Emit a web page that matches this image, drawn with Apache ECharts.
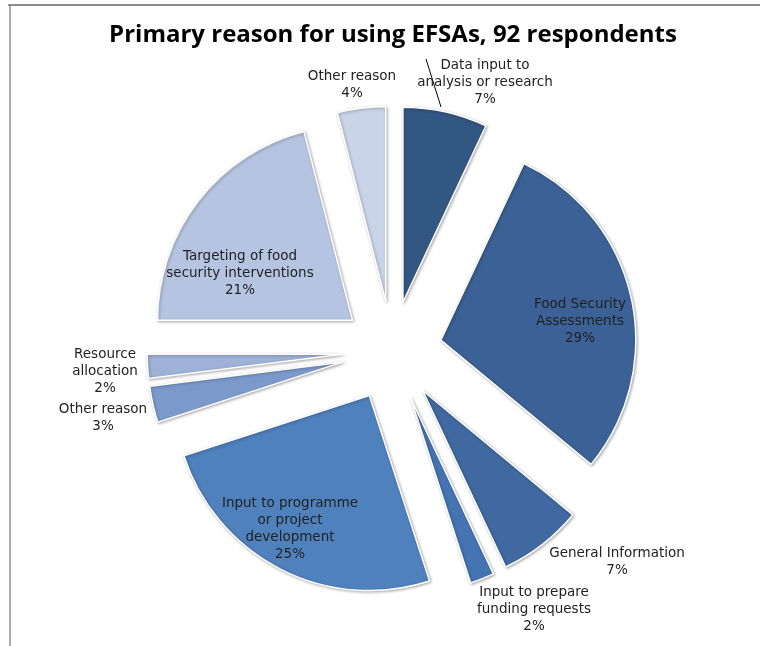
<!DOCTYPE html>
<html>
<head>
<meta charset="utf-8">
<script src="https://cdn.jsdelivr.net/npm/echarts@6/dist/echarts.min.js"></script>
<style>
  html, body { margin: 0; padding: 0; background: #ffffff; }
  #chart { width: 760px; height: 646px; }
</style>
</head>
<body>
<div id="chart"></div>
<script>
// Survey categories, clockwise from 12 o'clock
const categories = [
  'Data input to\nanalysis or research',
  'Food Security\nAssessments',
  'General Information',
  'Input to prepare\nfunding requests',
  'Input to programme\nor project\ndevelopment',
  'Other reason',
  'Resource\nallocation',
  'Targeting of food\nsecurity interventions',
  'Other reason'
];
// Share of respondents, percent
const shares = [7, 29, 7, 2, 25, 3, 2, 21, 4];

// Slice fills, dark navy to pale blue
const sliceColors = ['#335783', '#3b6196', '#3f69a0', '#4574b2', '#4f81bd', '#7b9acb', '#9db2d6', '#b5c4e0', '#c9d4e8'];
// Label block centres
const labelSpots = [
  [485, 82], [580, 321], [617, 562], [534, 609], [290, 529],
  [103, 418], [105, 371], [240, 273], [352, 85]
];

const chart = echarts.init(document.getElementById('chart'), null, { renderer: 'canvas' });

const data = shares.map((v, i) => ({
  name: categories[i],
  value: v,
  selected: true,
  itemStyle: { color: sliceColors[i] }
}));

// Category labels: name plus share, one text block per slice, drawn above the pie
const labelTexts = shares.map((v, i) => ({
  type: 'text',
  x: labelSpots[i][0],
  y: labelSpots[i][1],
  z: 100,
  silent: true,
  style: {
    text: categories[i] + '\n' + v + '%',
    fontFamily: 'DejaVu Sans',
    fontSize: 13.5,
    lineHeight: 17,
    fill: '#222222',
    align: 'center',
    verticalAlign: 'middle'
  }
}));

chart.setOption({
  animation: false,
  backgroundColor: '#ffffff',
  title: {
    text: 'Primary reason for using EFSAs, 92 respondents',
    left: 388,
    top: 18,
    textAlign: 'center',
    textStyle: {
      fontFamily: 'Open Sans',
      fontWeight: 'bold',
      fontSize: 24,
      color: '#000000'
    }
  },
  graphic: [
    { type: 'line', silent: true, z: 100, shape: { x1: 8, y1: 5, x2: 760, y2: 5 }, style: { stroke: '#8c8c8c', lineWidth: 2 } },
    { type: 'line', silent: true, z: 100, shape: { x1: 10, y1: 4, x2: 10, y2: 646 }, style: { stroke: '#8c8c8c', lineWidth: 1.5 } },
    // leader line for the top-right label
    { type: 'line', silent: true, z: 100, shape: { x1: 426, y1: 59, x2: 441, y2: 107 }, style: { stroke: '#000000', lineWidth: 1 } }
  ].concat(labelTexts),
  series: [{
    type: 'pie',
    z: 2,
    center: [392, 351],
    radius: 195,
    startAngle: 90,
    clockwise: true,
    selectedMode: 'multiple',
    selectedOffset: 50,
    itemStyle: {
      borderColor: '#ffffff',
      borderWidth: 1.5,
      shadowColor: 'rgba(0,0,0,0.3)',
      shadowBlur: 3,
      shadowOffsetX: 1,
      shadowOffsetY: 1
    },
    label: { show: false },
    labelLine: { show: false },
    emphasis: { disabled: true },
    data: data
  }]
});
</script>
</body>
</html>
